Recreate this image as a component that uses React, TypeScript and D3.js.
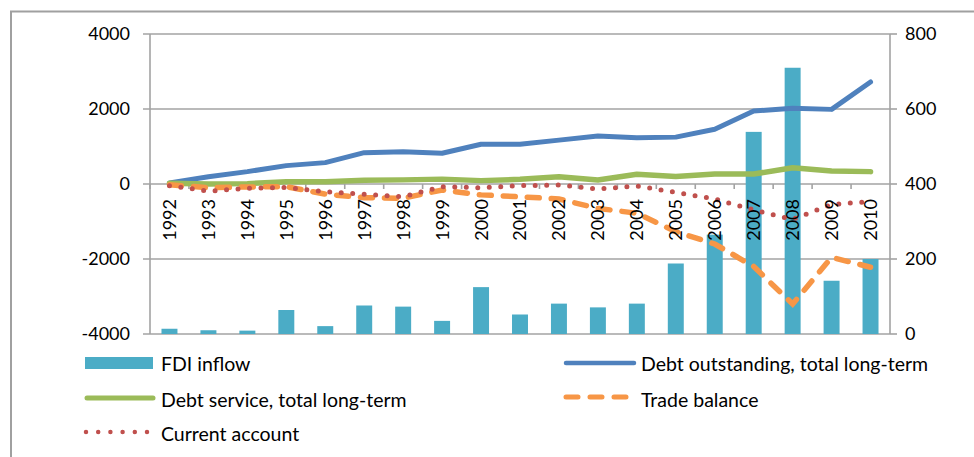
import React from 'react';
import * as d3 from 'd3';

const years = ['1992', '1993', '1994', '1995', '1996', '1997', '1998', '1999', '2000', '2001',
  '2002', '2003', '2004', '2005', '2006', '2007', '2008', '2009', '2010'];

// right axis
const fdiInflow = [14, 10, 9, 64, 21, 76, 73, 35, 125, 52, 81, 71, 81, 188, 265, 539, 710, 142, 200];

// left axis
const debtOutstanding = [30, 195, 330, 490, 570, 835, 860, 820, 1060, 1060, 1170, 1280, 1235, 1250, 1458, 1946, 2018, 1990, 2720];
const debtService = [20, 0, 10, 60, 60, 100, 110, 130, 90, 125, 195, 105, 260, 200, 265, 265, 435, 345, 330];
const tradeBalance = [-20, -100, -80, -70, -270, -365, -380, -160, -290, -340, -400, -650, -780, -1270, -1600, -2200, -3200, -1955, -2220];
const currentAccount = [-45, -190, -115, -90, -205, -275, -340, -70, -100, -45, -25, -135, -50, -225, -400, -690, -945, -545, -470];

const leftTicks = [-4000, -2000, 0, 2000, 4000];
const rightTicks = [0, 200, 400, 600, 800];

const FONT = 'Lato, "Open Sans", sans-serif';
const GRID = '#a3a3a3';

const x = d3.scaleBand<string>().domain(years).range([150, 890]).padding(0);
const yL = d3.scaleLinear().domain([-4000, 4000]).range([334, 34]);
const yR = d3.scaleLinear().domain([0, 800]).range([334, 34]);

const cx = (y: string) => (x(y) as number) + x.bandwidth() / 2;

const lineOf = (vals: number[]) =>
  d3.line<number>().x((_, i) => cx(years[i])).y((v) => yL(v))(vals) as string;

const App = () => {
  const bw = x.bandwidth() * 0.41;
  return (
    <svg width={974} height={457} style={{ position: 'absolute', left: 0, top: 0, background: '#fff' }}>
      {/* outer frame */}
      <path d="M11,460 V11.5 H980" fill="none" stroke="#a0a0a0" strokeWidth={2} />

      {/* gridlines + left ticks */}
      {leftTicks.map((t) => (
        <line key={t} x1={143} x2={890} y1={yL(t)} y2={yL(t)} stroke={GRID} strokeWidth={1.6} />
      ))}
      {rightTicks.map((t) => (
        <line key={t} x1={890} x2={897} y1={yR(t)} y2={yR(t)} stroke={GRID} strokeWidth={1.6} />
      ))}
      <line x1={150} x2={150} y1={34} y2={334} stroke={GRID} strokeWidth={1.6} />
      <line x1={890} x2={890} y1={34} y2={334} stroke={GRID} strokeWidth={1.6} />
      {/* category ticks on the zero line */}
      {years.map((y) => (
        <line key={y} x1={x(y)} x2={x(y)} y1={yL(0)} y2={yL(0) + 5} stroke={GRID} strokeWidth={1.6} />
      ))}

      {/* FDI bars */}
      {fdiInflow.map((v, i) => (
        <rect key={years[i]} x={cx(years[i]) - bw / 2} y={yR(v)} width={bw} height={yR(0) - yR(v)} fill="#4bacc6" />
      ))}

      {/* lines */}
      <path d={lineOf(debtOutstanding)} fill="none" stroke="#4f81bd" strokeWidth={5} strokeLinejoin="round" strokeLinecap="round" />
      <path d={lineOf(debtService)} fill="none" stroke="#9bbb59" strokeWidth={5.5} strokeLinejoin="round" strokeLinecap="round" />
      <path d={lineOf(tradeBalance)} fill="none" stroke="#f79646" strokeWidth={5.5} strokeDasharray="12 12" strokeLinecap="round" />
      <path d={lineOf(currentAccount)} fill="none" stroke="#c0504d" strokeWidth={5} strokeDasharray="0 11.5" strokeLinecap="round" />

      {/* tick labels */}
      {leftTicks.map((t) => (
        <text key={t} x={130} y={yL(t)} dy="0.36em" textAnchor="end" fontFamily={FONT} fontSize={18} fill="#000">{t}</text>
      ))}
      {rightTicks.map((t) => (
        <text key={t} x={905} y={yR(t)} dy="0.36em" textAnchor="start" fontFamily={FONT} fontSize={18} fill="#000">{t}</text>
      ))}
      {years.map((y) => (
        <text key={y} transform={`translate(${cx(y)},199) rotate(-90)`} dy="0.36em" textAnchor="end" fontFamily={FONT} fontSize={18} fill="#000">{y}</text>
      ))}

      {/* legend */}
      <g fontFamily={FONT} fontSize={19.5} fill="#000">
        <rect x={85} y={357} width={68} height={12} fill="#4bacc6" />
        <text x={161} y={371}>FDI inflow</text>
        <line x1={87} x2={153} y1={398} y2={398} stroke="#9bbb59" strokeWidth={5} strokeLinecap="round" />
        <text x={161} y={407}>Debt service, total long-term</text>
        <line x1={86} x2={150} y1={432} y2={432} stroke="#c0504d" strokeWidth={4.5} strokeDasharray="0 12.2" strokeLinecap="round" />
        <text x={161} y={441}>Current account</text>
        <line x1={566} x2={634} y1={363} y2={363} stroke="#4f81bd" strokeWidth={4.5} strokeLinecap="round" />
        <text x={641} y={371}>Debt outstanding, total long-term</text>
        <line x1={566} x2={630} y1={397} y2={397} stroke="#f79646" strokeWidth={5} strokeDasharray="12 12" strokeLinecap="round" />
        <text x={641} y={407}>Trade balance</text>
      </g>
    </svg>
  );
};

export default App;
